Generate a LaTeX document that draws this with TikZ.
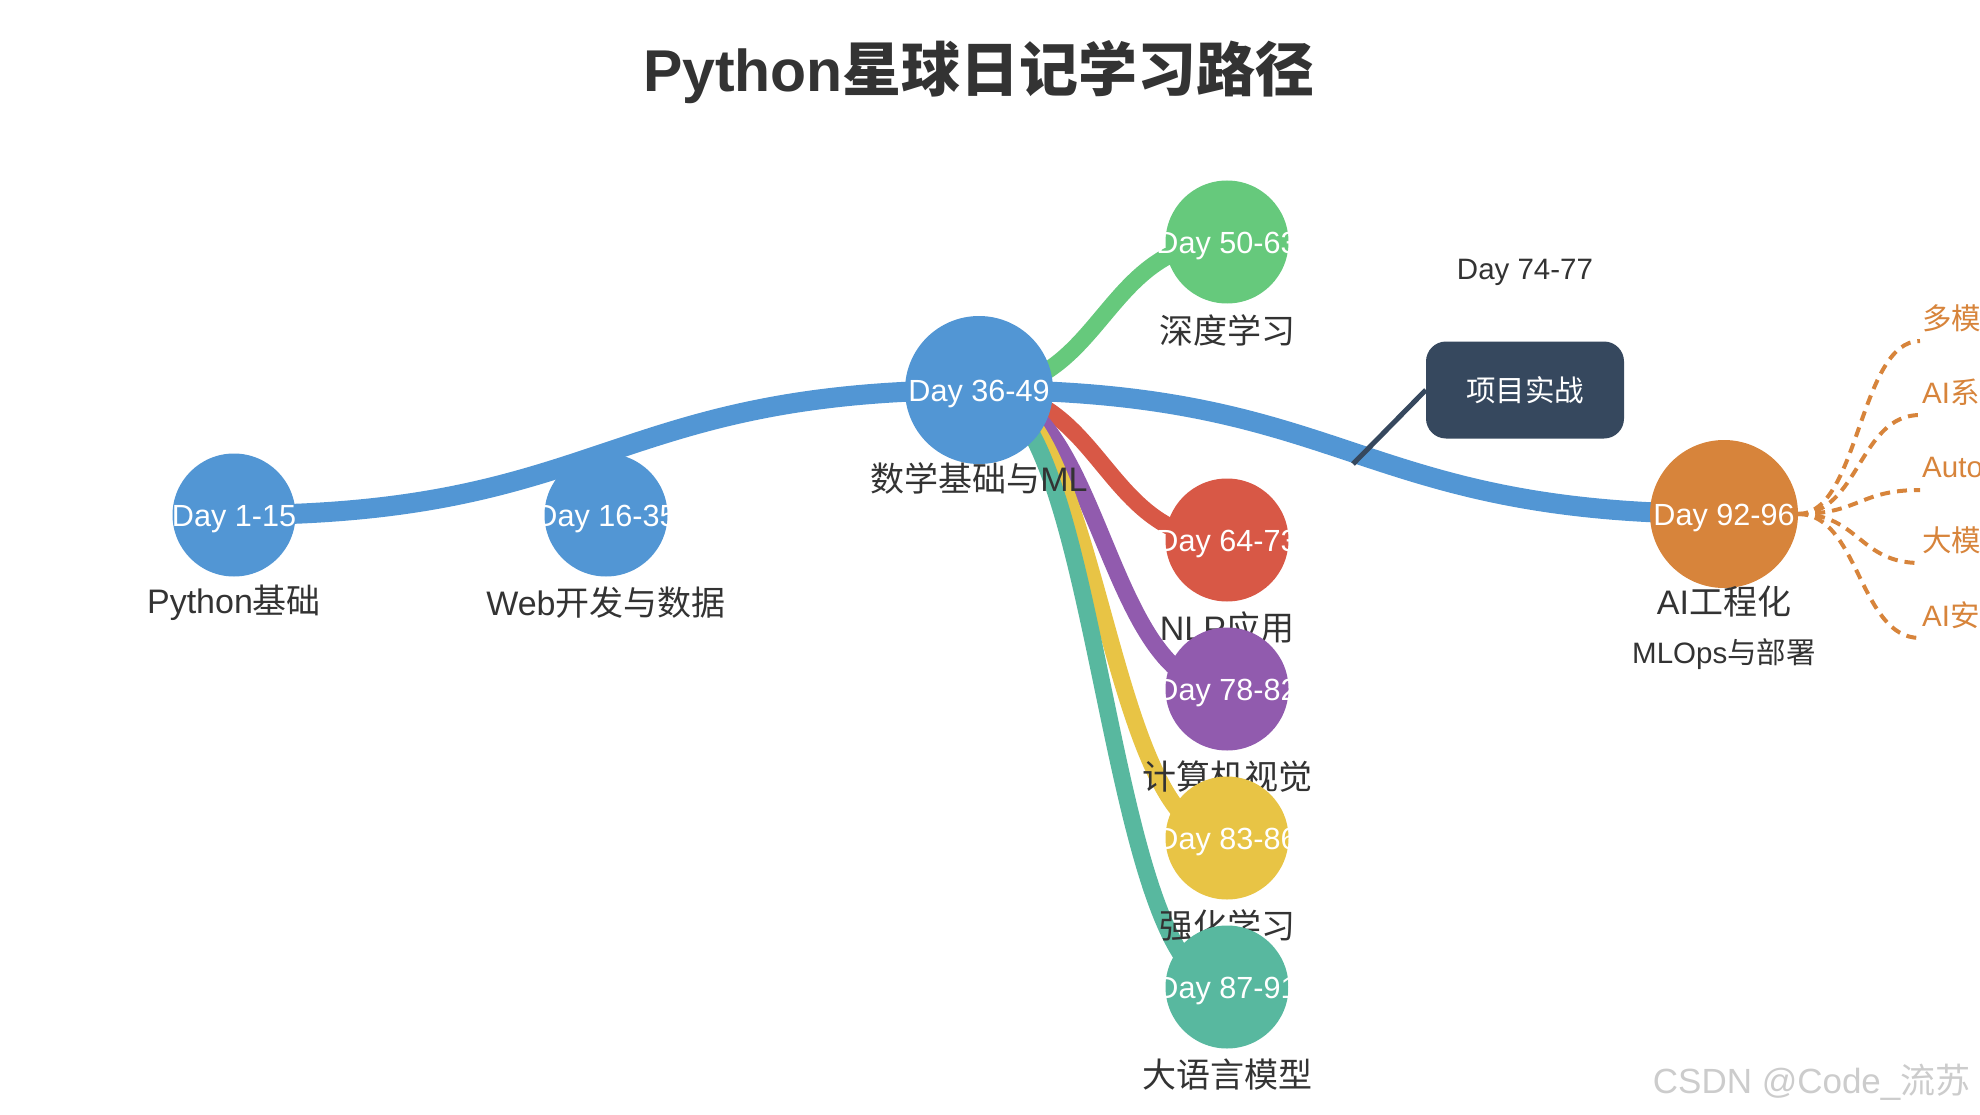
\documentclass[tikz,border=0pt]{standalone}
\usepackage{fontspec}
\setmainfont{Liberation Sans}
\newfontfamily\cjk{Noto Sans CJK SC}
\usetikzlibrary{calc}

\definecolor{pathblue}{RGB}{82,150,212}
\definecolor{dlgreen}{RGB}{102,201,124}
\definecolor{nlpred}{RGB}{216,88,70}
\definecolor{cvpurple}{RGB}{145,91,174}
\definecolor{rlyellow}{RGB}{232,196,69}
\definecolor{llmteal}{RGB}{88,184,159}
\definecolor{aiorange}{RGB}{215,132,59}
\definecolor{projdark}{RGB}{54,72,94}
\definecolor{textgray}{RGB}{51,51,51}

\pgfdeclarelayer{bg}
\pgfsetlayers{bg,main}

% horizontal link: controls at half way
\newcommand{\hlink}[3]{%
  \coordinate (hla) at (#2);
  \coordinate (hlb) at (#3);
  \coordinate (hlm) at ($(hla)!.5!(hlb)$);
  \draw[#1] (hla) .. controls (hlm |- hla) and (hlm |- hlb) .. (hlb);}

\tikzset{
  stage/.style={circle, fill=#1, minimum size=123pt, inner sep=0pt},
  bigstage/.style={stage=#1, minimum size=148pt},
  daytext/.style={text=white, yshift=-4pt, font=\fontsize{30.6}{36}\selectfont},
  stagelabel/.style={text=textgray, font=\fontsize{34}{40}\selectfont},
  sublabel/.style={text=textgray, font=\fontsize{29.5}{35}\selectfont},
  mainlink/.style={draw=pathblue, line width=20pt},
  branchlink/.style={draw=#1, line width=17pt},
  futurelink/.style={draw=aiorange, line width=4pt, dash pattern=on 10pt off 7pt},
  futurelabel/.style={anchor=west, inner sep=0pt, text=aiorange, font=\fontsize{29.5}{35}\selectfont},
}

\begin{document}
\begin{tikzpicture}[x=1pt, y=-1pt]
  \useasboundingbox (0,0) rectangle (1980,1115);
  \clip (0,0) rectangle (1980,1115);

  % Title
  \node[text=textgray, font=\fontsize{59}{70}\selectfont\bfseries] (title) at (979,72) {Python{\cjk 星球日记学习路径}};

  % Stages
  \node[stage=pathblue, label={[daytext]center:Day 1-15}] (n1) at (234,515) {};
  \node[stagelabel] (n1l) at ($(n1)+(0,88)$) {Python{\cjk 基础}};
  \node[stage=pathblue, label={[daytext]center:Day 16-35}] (n2) at (606,515) {};
  \node[stagelabel] (n2l) at ($(n2)+(0,88)$) {Web{\cjk 开发与数据}};
  \node[bigstage=pathblue, label={[daytext]center:Day 36-49}] (n3) at (979,390) {};
  \node[stagelabel] (n3l) at ($(n3)+(0,88)$) {{\cjk 数学基础与}ML};
  \node[stage=dlgreen, label={[daytext]center:Day 50-63}] (n4) at (1227,242) {};
  \node[stagelabel] (n4l) at ($(n4)+(0,88)$) {\cjk 深度学习};
  \node[stage=nlpred, label={[daytext]center:Day 64-73}] (n5) at (1227,540) {};
  \node[stagelabel] (n5l) at ($(n5)+(0,88)$) {NLP{\cjk 应用}};
  \node[stage=cvpurple, label={[daytext]center:Day 78-82}] (n6) at (1227,689) {};
  \node[stagelabel] (n6l) at ($(n6)+(0,88)$) {\cjk 计算机视觉};
  \node[stage=rlyellow, label={[daytext]center:Day 83-86}] (n7) at (1227,838) {};
  \node[stagelabel] (n7l) at ($(n7)+(0,88)$) {\cjk 强化学习};
  \node[stage=llmteal, label={[daytext]center:Day 87-91}] (n8) at (1227,987) {};
  \node[stagelabel] (n8l) at ($(n8)+(0,88)$) {\cjk 大语言模型};
  \node[bigstage=aiorange, label={[daytext]center:Day 92-96}] (n9) at (1724,514) {};
  \node[stagelabel] (n9l) at ($(n9)+(0,88)$) {AI{\cjk 工程化}};
  \node[sublabel] (n9s) at ($(n9)+(0,140)$) {MLOps{\cjk 与部署}};

  % Project
  \node[sublabel] (projday) at (1525,272) {Day 74-77};
  \node[fill=projdark, rounded corners=20pt, minimum width=198pt, minimum height=97pt,
    text=white, font=\fontsize{29.5}{35}\selectfont] (proj) at (1525,390) {\cjk 项目实战};
  \coordinate (projfoot) at (1353,464);

  % Next topics
  \coordinate (f1) at (1920,341);
  \coordinate (f2) at (1920,415);
  \coordinate (f3) at (1920,490);
  \coordinate (f4) at (1920,563);
  \coordinate (f5) at (1920,638);
  \node[futurelabel] (f1l) at (1922,318) {\cjk 多模};
  \node[futurelabel] (f2l) at (1922,392) {AI{\cjk 系}};
  \node[futurelabel] (f3l) at (1922,467) {Auto};
  \node[futurelabel] (f4l) at (1922,540) {\cjk 大模};
  \node[futurelabel] (f5l) at (1922,615) {AI{\cjk 安}};

  \node[anchor=east, text=black!20, font=\fontsize{35}{40}\selectfont] (mark) at (1974,1082) {CSDN @Code\_{\cjk 流苏}};

  % Links
  \begin{pgfonlayer}{bg}
    \hlink{mainlink}{n1.center}{n3.center}
    \hlink{mainlink}{n3.center}{n9.center}
    \draw[projdark, line width=5pt] (projfoot) -- (proj.west);
    \hlink{branchlink=dlgreen}{n3.center}{n4.center}
    \hlink{branchlink=nlpred}{n3.center}{n5.center}
    \hlink{branchlink=cvpurple}{n3.center}{n6.center}
    \hlink{branchlink=rlyellow}{n3.center}{n7.center}
    \hlink{branchlink=llmteal}{n3.center}{n8.center}
    \foreach \i in {1,...,5} {\hlink{futurelink}{n9.east}{f\i}}
  \end{pgfonlayer}
\end{tikzpicture}
\end{document}
